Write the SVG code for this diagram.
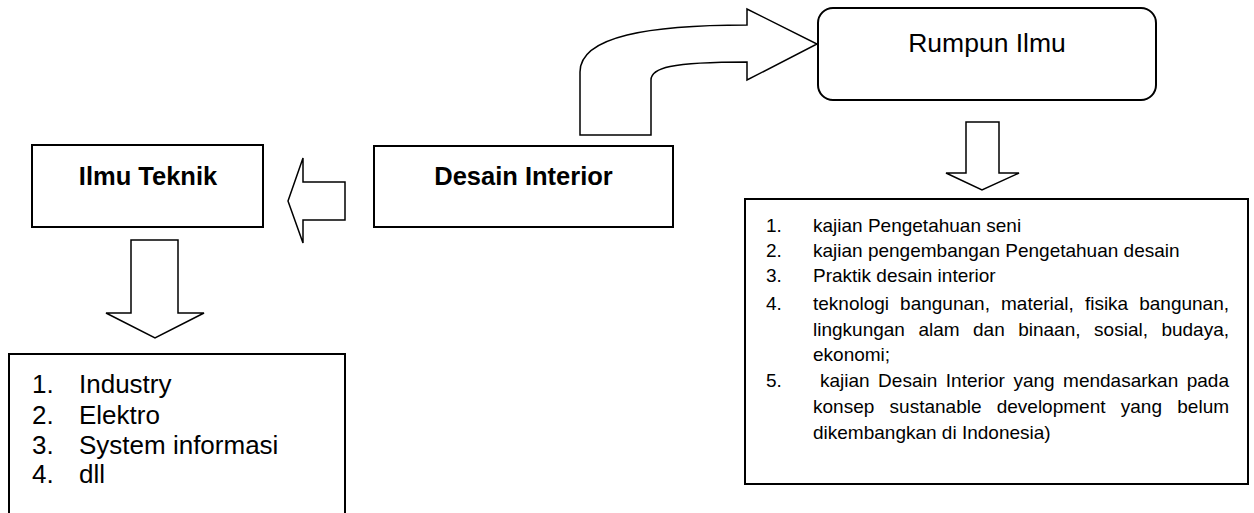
<svg xmlns="http://www.w3.org/2000/svg" width="1254" height="513" viewBox="0 0 1254 513">
<style>
  .box { fill: #fff; stroke: #000; stroke-width: 2; }
  .arrow { fill: #fff; stroke: #000; stroke-width: 1.5; stroke-linejoin: miter; }
  .title { font-family: "Liberation Sans", Arial, sans-serif; font-size: 25.5px; font-weight: bold; fill: #000; text-anchor: middle; }
  .rtitle { font-family: "Liberation Sans", Arial, sans-serif; font-size: 26.5px; fill: #000; text-anchor: middle; }
  .llist { font-family: "Liberation Sans", Arial, sans-serif; font-size: 26px; fill: #000; }
  .rlist { font-family: "Liberation Sans", Arial, sans-serif; font-size: 19px; fill: #000; }
</style>
<rect width="1254" height="513" fill="#fff"/>

<g id="connectors">
  <path class="arrow" d="M580,135 L580,72 C580,36 650,25 747,25 L747,9 L817,44 L747,80 L747,62 C670,62 651,68 651,80 L651,135 Z"/>
  <polygon class="arrow" points="288,201 303,158 303,182 345,182 345,220 303,220 303,243"/>
  <polygon class="arrow" points="131,240 178,240 178,313 204,313 155,338 106,313 131,313"/>
  <polygon class="arrow" points="966,122 999,122 999,173 1019,173 982,190 946,173 966,173"/>
</g>

<g id="node-rumpun-ilmu">
  <rect class="box" x="818" y="8" width="338" height="92" rx="15" ry="15"/>
  <text class="rtitle" x="987" y="52">Rumpun Ilmu</text>
</g>

<g id="node-ilmu-teknik">
  <rect class="box" x="32" y="145" width="231" height="82"/>
  <text class="title" x="148" y="185">Ilmu Teknik</text>
</g>

<g id="node-desain-interior">
  <rect class="box" x="374" y="146" width="299" height="81"/>
  <text class="title" x="523.5" y="185">Desain Interior</text>
</g>

<g id="node-teknik-list">
  <rect class="box" x="9" y="354" width="336" height="180"/>
  <text class="llist"><tspan x="32" y="393">1.</tspan><tspan x="79" y="393">Industry</tspan></text>
  <text class="llist"><tspan x="32" y="424">2.</tspan><tspan x="79" y="424">Elektro</tspan></text>
  <text class="llist"><tspan x="32" y="454">3.</tspan><tspan x="79" y="454">System informasi</tspan></text>
  <text class="llist"><tspan x="32" y="483">4.</tspan><tspan x="79" y="483">dll</tspan></text>
</g>

<g id="node-rumpun-list">
  <rect class="box" x="745" y="199" width="503" height="285"/>
  <text class="rlist"><tspan x="766" y="232">1.</tspan><tspan x="813" y="232">kajian Pengetahuan seni</tspan></text>
  <text class="rlist"><tspan x="766" y="257">2.</tspan><tspan x="813" y="257">kajian pengembangan Pengetahuan desain</tspan></text>
  <text class="rlist"><tspan x="766" y="282">3.</tspan><tspan x="813" y="282">Praktik desain interior</tspan></text>
  <text class="rlist"><tspan x="766" y="310">4.</tspan><tspan x="813" y="310">teknologi</tspan><tspan x="900.1" y="310">bangunan,</tspan><tspan x="1001" y="310">material,</tspan><tspan x="1084.9" y="310">fisika</tspan><tspan x="1139.2" y="310">bangunan,</tspan></text>
  <text class="rlist"><tspan x="813" y="336">lingkungan</tspan><tspan x="918.4" y="336">alam</tspan><tspan x="973" y="336">dan</tspan><tspan x="1018.2" y="336">binaan,</tspan><tspan x="1094.1" y="336">sosial,</tspan><tspan x="1161.4" y="336">budaya,</tspan></text>
  <text class="rlist"><tspan x="813" y="361">ekonomi;</tspan></text>
  <text class="rlist"><tspan x="766" y="387">5.</tspan><tspan x="820" y="387">kajian</tspan><tspan x="878.1" y="387">Desain</tspan><tspan x="945.8" y="387">Interior</tspan><tspan x="1013.4" y="387">yang</tspan><tspan x="1063.1" y="387">mendasarkan</tspan><tspan x="1186.7" y="387">pada</tspan></text>
  <text class="rlist"><tspan x="813" y="413">konsep</tspan><tspan x="889.6" y="413">sustanable</tspan><tspan x="996.7" y="413">development</tspan><tspan x="1120.8" y="413">yang</tspan><tspan x="1177.3" y="413">belum</tspan></text>
  <text class="rlist"><tspan x="813" y="439">dikembangkan di Indonesia)</tspan></text>
</g>
</svg>
